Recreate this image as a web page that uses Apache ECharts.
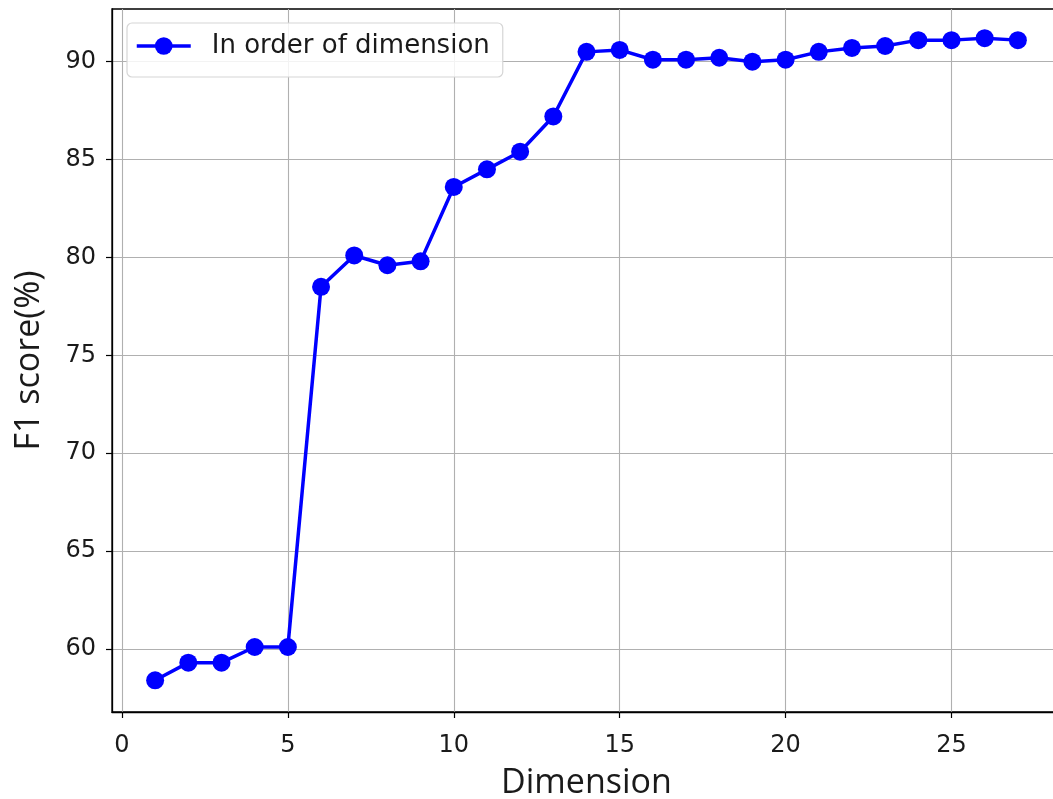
<!DOCTYPE html>
<html>
<head>
<meta charset="utf-8">
<script src="https://cdn.jsdelivr.net/npm/echarts@6/dist/echarts.min.js"></script>
<style>
  html, body { margin: 0; padding: 0; background: #fff; }
  #chart { width: 1053px; height: 799px; }
</style>
</head>
<body>
<div id="chart"></div>
<script>
// F1 score as the number of dimensions grows
const dimensions = [1, 2, 3, 4, 5, 6, 7, 8, 9, 10, 11, 12, 13, 14, 15, 16, 17, 18, 19, 20, 21, 22, 23, 24, 25, 26, 27];
const f1Scores = [58.4, 59.3, 59.3, 60.1, 60.1, 78.5, 80.1, 79.6, 79.8, 83.6, 84.5, 85.4, 87.2, 90.5, 90.6, 90.1, 90.1, 90.2, 90.0, 90.1, 90.5, 90.7, 90.8, 91.1, 91.1, 91.2, 91.1];
const seriesName = 'In order of dimension';
const xTicks = [0, 5, 10, 15, 20, 25];
const yTicks = [60, 65, 70, 75, 80, 85, 90];

const points = dimensions.map((d, i) => [d, f1Scores[i]]);

const tickFont = { fontFamily: 'DejaVu Sans', fontSize: 24, color: '#1a1a1a' };
const titleFont = { fontFamily: 'Open Sans', fontSize: 34, color: '#1a1a1a' };

const chart = echarts.init(document.getElementById('chart'), null, { renderer: 'canvas' });
chart.setOption({
  backgroundColor: '#ffffff',
  animation: false,
  grid: {
    left: 112, top: 9, width: 949, height: 703,
    outerBoundsMode: 'none',
    containLabel: false,
    show: true, borderColor: '#000', borderWidth: 1.3, backgroundColor: '#fff'
  },
  legend: {
    left: 127, top: 23,
    padding: [10, 13, 18, 8],
    backgroundColor: 'rgba(255,255,255,0.85)',
    borderColor: '#d6d6d6', borderWidth: 1.2, borderRadius: 5,
    itemWidth: 54, itemHeight: 22,
    lineStyle: { width: 3.5, color: '#0000ff' },
    textStyle: { fontFamily: 'DejaVu Sans', fontSize: 26, color: '#1a1a1a', padding: [0, 0, 0, 16] },
    data: [seriesName]
  },
  xAxis: {
    type: 'value',
    min: -0.3, max: 28.3,
    name: 'Dimension', nameLocation: 'middle', nameGap: 54,
    nameTextStyle: titleFont,
    axisLine: { show: true, onZero: false, lineStyle: { color: '#000', width: 1.3 } },
    axisTick: { show: true, inside: false, length: 6, customValues: xTicks, lineStyle: { color: '#000', width: 1.2 } },
    axisLabel: { customValues: xTicks, margin: 22, ...tickFont },
    splitLine: { show: true, lineStyle: { color: '#b0b0b0', width: 1.1 } }
  },
  yAxis: {
    type: 'value',
    min: 56.78, max: 92.69,
    name: 'F1 score(%)', nameLocation: 'middle', nameGap: 66,
    nameTextStyle: titleFont,
    axisLine: { show: true, onZero: false, lineStyle: { color: '#000', width: 1.3 } },
    axisTick: { show: true, inside: false, length: 6, customValues: yTicks, lineStyle: { color: '#000', width: 1.2 } },
    axisLabel: { customValues: yTicks, margin: 16, ...tickFont },
    splitLine: { show: true, lineStyle: { color: '#b0b0b0', width: 1.1 } }
  },
  series: [{
    name: seriesName,
    type: 'line',
    data: points,
    symbol: 'circle',
    symbolSize: 18,
    lineStyle: { color: '#0000ff', width: 3.5 },
    itemStyle: { color: '#0000ff' },
    z: 5
  }]
});
</script>
</body>
</html>
